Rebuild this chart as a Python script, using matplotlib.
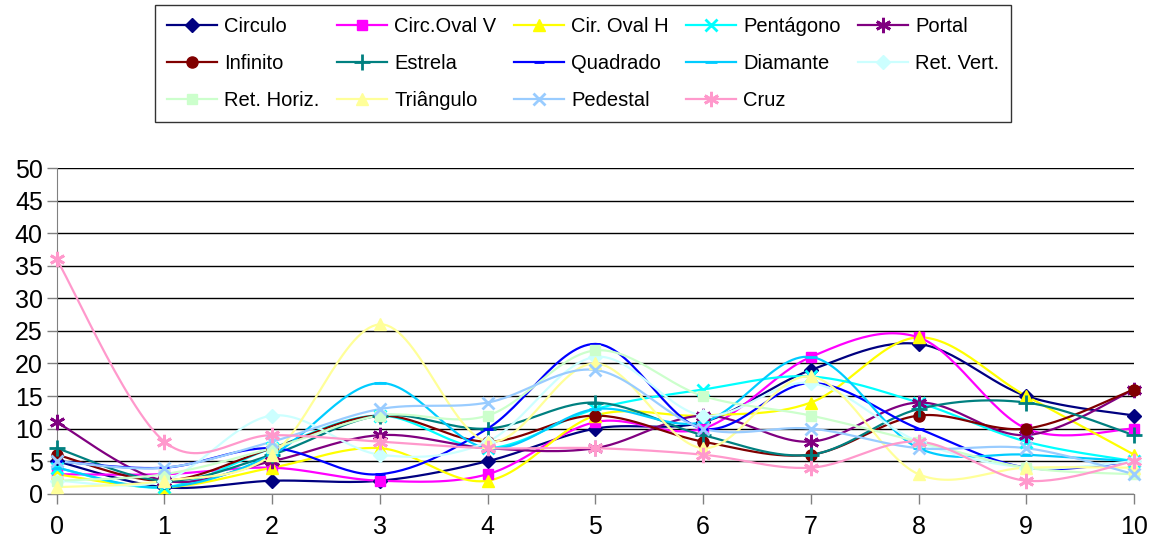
import numpy as np
import matplotlib
matplotlib.use("Agg")
import matplotlib.pyplot as plt
from matplotlib.lines import Line2D

plt.rcParams['font.family'] = ['Liberation Sans', 'DejaVu Sans']

x = list(range(0, 11))

circulo = [5, 1, 2, 2, 5, 10, 11, 19, 23, 15, 12]
circ_oval_v = [3, 3, 4, 2, 3, 11, 10, 21, 24, 10, 10]
cir_oval_h = [3, 1, 4, 7, 2, 12, 12, 14, 24, 15, 6]
pentagono = [4, 1, 7, 12, 7, 13, 16, 18, 14, 8, 5]
portal = [11, 2, 5, 9, 7, 7, 12, 8, 14, 9, 16]
infinito = [6, 2, 7, 12, 8, 12, 8, 6, 12, 10, 16]
estrela = [7, 2, 6, 12, 10, 14, 9, 6, 13, 14, 9]
quadrado = [5, 4, 7, 3, 10, 23, 10, 17, 10, 4, 5]
diamante = [4, 1, 6, 17, 7, 13, 11, 21, 7, 6, 5]
ret_vert = [2, 2, 12, 6, 8, 21, 12, 17, 8, 4, 5]
ret_horiz = [2, 3, 7, 12, 12, 22, 15, 12, 8, 4, 3]
triangulo = [1, 2, 6, 26, 8, 20, 7, 18, 3, 4, 4]
pedestal = [5, 4, 8, 13, 14, 19, 10, 10, 7, 7, 3]
cruz = [36, 8, 9, 8, 7, 7, 6, 4, 8, 2, 5]

names = ["Circulo", "Circ.Oval V", "Cir. Oval H", "Pentágono", "Portal",
         "Infinito", "Estrela", "Quadrado", "Diamante", "Ret. Vert.",
         "Ret. Horiz.", "Triângulo", "Pedestal", "Cruz"]
series = [circulo, circ_oval_v, cir_oval_h, pentagono, portal,
          infinito, estrela, quadrado, diamante, ret_vert,
          ret_horiz, triangulo, pedestal, cruz]

asterisk = (6, 2, 0)
styles = [
    ("#000080", "D", 7), ("#FF00FF", "s", 7), ("#FFFF00", "^", 9),
    ("#00FFFF", "x", 9), ("#800080", asterisk, 11),
    ("#800000", "o", 8), ("#008080", "+", 11), ("#0000FF", "_", 7),
    ("#00CCFF", "_", 9), ("#CCFFFF", "D", 7),
    ("#CCFFCC", "s", 7), ("#FFFF99", "^", 9), ("#99CCFF", "x", 9),
    ("#FF99CC", asterisk, 11),
]


def smooth(xs, ys, n=30):
	# bezier smoothing like excel
	xs = np.asarray(xs, float)
	ys = np.asarray(ys, float)
	px = np.concatenate([[xs[0]], xs, [xs[-1]]])
	py = np.concatenate([[ys[0]], ys, [ys[-1]]])
	outx, outy = [], []
	t = np.linspace(0, 1, n)
	for i in range(1, len(px) - 2):
		p0 = np.array([px[i], py[i]])
		p3 = np.array([px[i + 1], py[i + 1]])
		c1 = p0 + (np.array([px[i + 1], py[i + 1]]) - np.array([px[i - 1], py[i - 1]])) / 6
		c2 = p3 - (np.array([px[i + 2], py[i + 2]]) - np.array([px[i], py[i]])) / 6
		b = ((1 - t) ** 3)[:, None] * p0 + (3 * (1 - t) ** 2 * t)[:, None] * c1 \
			+ (3 * (1 - t) * t ** 2)[:, None] * c2 + (t ** 3)[:, None] * p3
		outx.extend(b[:, 0])
		outy.extend(b[:, 1])
	return outx, outy


fig = plt.figure(figsize=(11.56, 5.42), dpi=100)
ax = fig.add_axes([0.049, 0.089, 0.932, 0.601])

handles = []
for name, ys, (c, m, ms) in zip(names, series, styles):
	sx, sy = smooth(x, ys)
	ax.plot(sx, sy, color=c, lw=1.6, zorder=3)
	mew = 2 if m in ("x", "+", "_") or m == asterisk else 1
	ax.plot(x, ys, ls="none", marker=m, color=c, ms=ms, mew=mew, zorder=4)
	handles.append(Line2D([0], [0], color=c, lw=1.6, marker=m, ms=ms, mew=mew))

ax.set_xlim(0, 10)
ax.set_ylim(0, 50)
ax.set_xticks(x)
ax.set_yticks(range(0, 51, 5))
ax.grid(axis="y", color="black", lw=1)
ax.set_axisbelow(True)
for line in ax.get_lines():
	line.set_clip_on(False)
for s in ["right", "top"]:
	ax.spines[s].set_visible(False)
ax.spines["left"].set_color("#808080")
ax.spines["bottom"].set_color("#808080")
ax.tick_params(axis="both", labelsize=18, colors="#808080", labelcolor="black",
               length=7, width=1)
ax.tick_params(axis="x", pad=8)
ax.tick_params(axis="y", pad=3)

# reorder so legend fills row by row
ncol = 5
order = []
for c in range(ncol):
	order.extend(range(c, len(names), ncol))
leg = fig.legend([handles[i] for i in order], [names[i] for i in order],
                 ncol=ncol, loc="upper left", bbox_to_anchor=(0.134, 0.991),
                 fontsize=14.5, frameon=True, fancybox=False, edgecolor="black",
                 handlelength=2.5, columnspacing=0.85, handletextpad=0.35,
                 labelspacing=0.9, borderpad=0.6, borderaxespad=0)
leg.get_frame().set_linewidth(1)

fig.savefig("out.png", dpi=100)
